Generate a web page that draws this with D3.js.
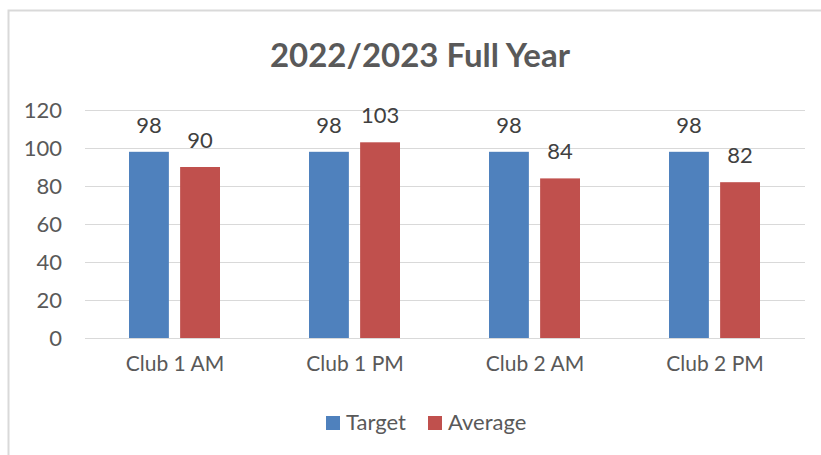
<!DOCTYPE html>
<html>
<head>
<meta charset="utf-8">
<script src="https://cdn.jsdelivr.net/npm/d3@7"></script>
<style>
  body { margin: 0; background: #fff; }
  text { font-family: Lato, "Open Sans", sans-serif; }
</style>
</head>
<body>
<script>
var categories = ["Club 1 AM", "Club 1 PM", "Club 2 AM", "Club 2 PM"];
var seriesNames = ["Target", "Average"];
var targetValues = [98, 98, 98, 98];
var averageValues = [90, 103, 84, 82];
var yTicks = [0, 20, 40, 60, 80, 100, 120];
var colors = ["#4f81bd", "#c0504d"];

var width = 821, height = 455;
var margin = { top: 110, left: 85 };

var svg = d3.select("body").append("svg")
  .attr("width", width)
  .attr("height", height);

// chart area border (right and bottom edges fall outside the window)
svg.append("rect")
  .attr("x", 8.5).attr("y", 10.5)
  .attr("width", width + 20).attr("height", height + 20)
  .attr("fill", "none")
  .attr("stroke", "#d9d9d9")
  .attr("stroke-width", 2);

svg.append("text")
  .attr("x", 420).attr("y", 67)
  .attr("text-anchor", "middle")
  .attr("font-size", 33)
  .attr("font-weight", "bold")
  .attr("fill", "#595959")
  .text("2022/2023 Full Year");

var g = svg.append("g")
  .attr("transform", "translate(" + margin.left + "," + margin.top + ")");

var x = d3.scaleBand().domain(categories).range([0, 720]);
var x1 = d3.scaleBand().domain(seriesNames).range([44, 135]).paddingInner(0.22);
var y = d3.scaleLinear().domain([0, 120]).range([228, 0]);

// gridlines
g.selectAll(".grid")
  .data(yTicks)
  .enter().append("line")
  .attr("x1", 0).attr("x2", 720)
  .attr("y1", function(d) { return y(d) + 0.5; })
  .attr("y2", function(d) { return y(d) + 0.5; })
  .attr("stroke", "#d9d9d9")
  .attr("stroke-width", 1.2);

var yAxis = d3.axisLeft(y).tickValues(yTicks).tickSize(0).tickPadding(23);
g.append("g").call(yAxis)
  .call(function(a) { a.select(".domain").remove(); })
  .selectAll("text")
  .attr("font-size", 22)
  .attr("font-family", "Lato, sans-serif")
  .attr("fill", "#595959");

var xAxis = d3.axisBottom(x).tickSize(0).tickPadding(18);
g.append("g")
  .attr("transform", "translate(0," + y(0) + ")")
  .call(xAxis)
  .call(function(a) { a.select(".domain").remove(); })
  .selectAll("text")
  .attr("font-size", 21)
  .attr("font-family", "Lato, sans-serif")
  .attr("fill", "#595959");

var rows = categories.map(function(c, i) {
  return { cat: c, values: [targetValues[i], averageValues[i]] };
});

var groups = g.selectAll(".grp")
  .data(rows)
  .enter().append("g")
  .attr("transform", function(d) { return "translate(" + x(d.cat) + ",0)"; });

groups.selectAll("rect")
  .data(function(d) { return d.values.map(function(v, j) { return { name: seriesNames[j], value: v, j: j }; }); })
  .enter().append("rect")
  .attr("x", function(d) { return x1(d.name); })
  .attr("width", x1.bandwidth())
  .attr("y", function(d) { return y(d.value); })
  .attr("height", function(d) { return y(0) - y(d.value); })
  .attr("fill", function(d) { return colors[d.j]; });

groups.selectAll(".lbl")
  .data(function(d) { return d.values.map(function(v, j) { return { name: seriesNames[j], value: v }; }); })
  .enter().append("text")
  .attr("x", function(d) { return x1(d.name) + x1.bandwidth() / 2; })
  .attr("y", function(d) { return y(d.value) - 19; })
  .attr("text-anchor", "middle")
  .attr("font-size", 22)
  .attr("fill", "#404040")
  .text(function(d) { return d.value; });

// legend
var legend = svg.append("g").attr("transform", "translate(326,416)");
var lx = [0, 102];
seriesNames.forEach(function(s, i) {
  legend.append("rect")
    .attr("x", lx[i]).attr("y", 0)
    .attr("width", 14).attr("height", 14)
    .attr("fill", colors[i]);
  legend.append("text")
    .attr("x", lx[i] + 20).attr("y", 14)
    .attr("font-size", 22)
    .attr("fill", "#595959")
    .text(s);
});
</script>
</body>
</html>
